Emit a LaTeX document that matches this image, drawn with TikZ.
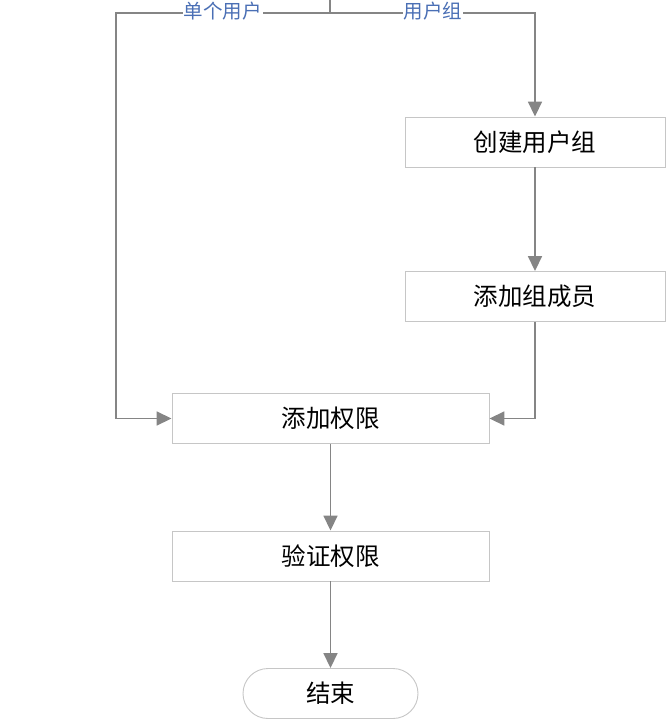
\documentclass[tikz,border=0pt]{standalone}
\usepackage{fontspec}
\setmainfont{Noto Sans CJK SC}
\usetikzlibrary{arrows.meta}
\definecolor{linegray}{HTML}{858585}
\definecolor{boxgray}{HTML}{C6C6C6}
\definecolor{lblblue}{HTML}{4A6FB5}
\begin{document}
\begin{tikzpicture}[x=1pt,y=-1pt,
  box/.style={draw=boxgray,line width=0.9pt,fill=white,minimum height=50pt,inner sep=0pt,font=\fontsize{24.5}{28}\selectfont},
  term/.style={box,rounded corners=25pt},
  conn/.style={draw=linegray,line width=1.7pt,-{Triangle[length=15pt,width=14pt]}},
  plain/.style={draw=linegray,line width=1.7pt},
  lbl/.style={fill=white,text=lblblue,inner sep=1pt,font=\fontsize{19.5}{22}\selectfont}]
\useasboundingbox (0,0) rectangle (667,724);
\node[box,minimum width=260pt] (cg) at (535,142) {创建用户组};
\node[box,minimum width=260pt] (am) at (535,296.5) {添加组成员};
\node[box,minimum width=317pt] (ap) at (330.5,418.5) {添加权限};
\node[box,minimum width=317pt] (vp) at (330.5,556) {验证权限};
\node[term,minimum width=175pt] (end) at (330.5,693.5) {结束};
\coordinate (top) at (330,-1);
\coordinate (split) at (330,13);
\coordinate (lc) at (116,13);
\coordinate (rc) at (535,13);
\coordinate (lb) at (116,418.5);
\coordinate (rb) at (535,418.5);
\draw[plain] (top) -- (split);
\draw[conn] (split) -- (lc) -- (lb) -- (ap.west);
\draw[conn] (split) -- (rc) -- (cg.north);
\draw[conn] (cg) -- (am);
\draw[conn] (am.south) -- (rb) -- (ap.east);
\draw[conn] (ap) -- (vp);
\draw[conn] (vp) -- (end);
\node[lbl] (l1) at (222.5,11) {单个用户};
\node[lbl] (l2) at (433,11) {用户组};
\end{tikzpicture}
\end{document}
